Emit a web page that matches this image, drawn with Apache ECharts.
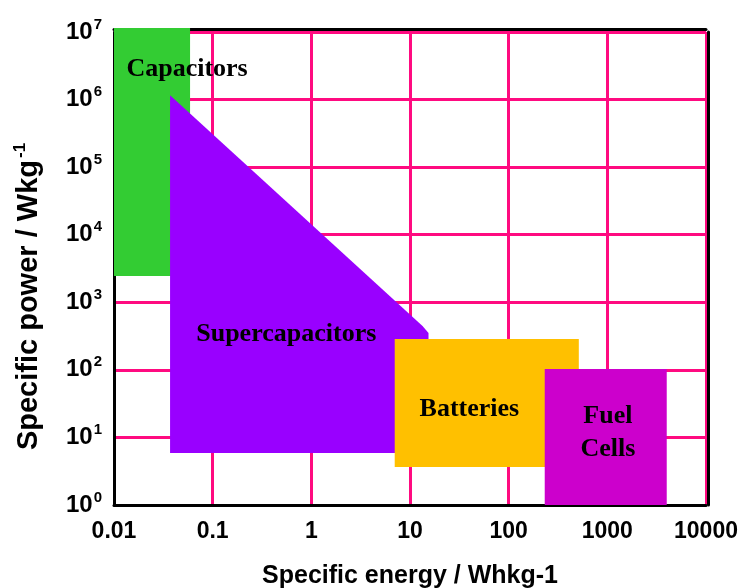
<!DOCTYPE html>
<html><head><meta charset="utf-8">
<script src="https://cdn.jsdelivr.net/npm/echarts@6/dist/echarts.min.js"></script>
<style>html,body{margin:0;padding:0;background:#fff}#c{width:741px;height:588px}</style>
</head><body><div id="c"></div>
<script>
// ---- data ----
const xTickLabels = ['0.01', '0.1', '1', '10', '100', '1000', '10000'];
const yTickExponents = ['0', '1', '2', '3', '4', '5', '6', '7'];
const categories = ['Capacitors', 'Supercapacitors', 'Batteries', 'Fuel\nCells'];

// region outlines (specific energy, specific power)
const capacitorsX = [0.01, 0.059, 0.059, 0.01];
const capacitorsY = [1.15e7, 1.15e7, 2450, 2450];
const supercapacitorsX = [0.037, 13.4, 15.4, 15.4, 0.037];
const supercapacitorsY = [1.16e6, 444, 350, 5.9, 5.9];
const batteriesX = [7, 514, 514, 7];
const batteriesY = [286, 286, 3.65, 3.65];
const fuelCellsX = [232, 4000, 4000, 232];
const fuelCellsY = [103, 103, 1, 1];

// label anchor points
const labelX = [0.055, 0.557, 40, 1012];
const labelY = [2.8e6, 335, 26, 11.8];

const xMin = 0.01, xMax = 10000, yMin = 1, yMax = 1e7;

const shapesX = [capacitorsX, supercapacitorsX, batteriesX, fuelCellsX];
const shapesY = [capacitorsY, supercapacitorsY, batteriesY, fuelCellsY];
const fills = ['#33CC33', '#9900FF', '#FFC000', '#CC00CC'];

const sans = '"Liberation Sans", Arial, sans-serif';
const serif = '"Liberation Serif", "Times New Roman", serif';
const pink = '#FF0A80';

const chart = echarts.init(document.getElementById('c'), null, {renderer: 'canvas'});
chart.setOption({
  animation: false,
  backgroundColor: '#ffffff',
  grid: {left: 114, right: 35, top: 32, bottom: 83, containLabel: false, outerBoundsMode: 'none'},
  xAxis: [{
    type: 'log', logBase: 10, min: xMin, max: xMax,
    name: 'Specific energy / Whkg-1', nameLocation: 'middle', nameGap: 59,
    nameTextStyle: {fontFamily: sans, fontWeight: 'bold', fontSize: 25, color: '#000'},
    axisLine: {show: true, onZero: false, lineStyle: {color: '#000', width: 3}},
    axisTick: {show: false},
    axisLabel: {
      margin: 15, fontFamily: sans, fontWeight: 'bold', fontSize: 23, color: '#000',
      formatter: function (v) { return xTickLabels[Math.round(Math.log10(v / xMin))]; }
    },
    splitLine: {show: true, showMinLine: false, lineStyle: {color: pink, width: 3}},
    minorTick: {show: false}, minorSplitLine: {show: false}
  }, {
    type: 'log', logBase: 10, min: xMin, max: xMax, position: 'top', offset: 3,
    axisLine: {show: true, onZero: false, lineStyle: {color: '#000', width: 3}},
    axisTick: {show: false}, axisLabel: {show: false}, splitLine: {show: false}
  }],
  yAxis: [{
    type: 'log', logBase: 10, min: yMin, max: yMax,
    name: 'Specific power / Wkg{s|-1}', nameLocation: 'middle', nameGap: 68,
    nameTextStyle: {
      fontFamily: sans, fontWeight: 'bold', fontSize: 29, color: '#000',
      padding: [0, 56, 0, 0],
      rich: {s: {fontFamily: sans, fontWeight: 'bold', fontSize: 17, color: '#000', padding: [0, 0, 17, 2]}}
    },
    axisLine: {show: true, onZero: false, lineStyle: {color: '#000', width: 3}},
    axisTick: {show: false},
    axisLabel: {
      margin: 12, color: '#000',
      formatter: function (v) { return '{a|10}{b|' + yTickExponents[Math.round(Math.log10(v / yMin))] + '}'; },
      rich: {
        a: {fontFamily: sans, fontWeight: 'bold', fontSize: 24, color: '#000'},
        b: {fontFamily: sans, fontWeight: 'bold', fontSize: 15, color: '#000', padding: [0, 0, 15, 1]}
      }
    },
    splitLine: {show: true, showMinLine: false, lineStyle: {color: pink, width: 3}},
    minorTick: {show: false}, minorSplitLine: {show: false}
  }, {
    type: 'log', logBase: 10, min: yMin, max: yMax, position: 'right', offset: 2,
    axisLine: {show: true, onZero: false, lineStyle: {color: '#000', width: 3}},
    axisTick: {show: false}, axisLabel: {show: false}, splitLine: {show: false}
  }],
  series: [{
    type: 'custom',
    clip: false,
    xAxisIndex: 0, yAxisIndex: 0,
    encode: {x: 0, y: 1},
    data: categories.map((c, i) => [labelX[i], labelY[i], i]),
    renderItem: function (params, api) {
      const i = api.value(2);
      const pts = shapesX[i].map((x, k) => api.coord([x, shapesY[i][k]]));
      const lp = api.coord([api.value(0), api.value(1)]);
      return {
        type: 'group',
        children: [
          {type: 'polygon', shape: {points: pts}, style: {fill: fills[i]}},
          {type: 'text', x: lp[0], y: lp[1], z2: 10,
            style: {text: categories[i], font: 'bold 26px ' + serif, fill: '#000',
              align: 'center', verticalAlign: 'middle', lineHeight: 33}}
        ]
      };
    }
  }]
});
</script></body></html>
